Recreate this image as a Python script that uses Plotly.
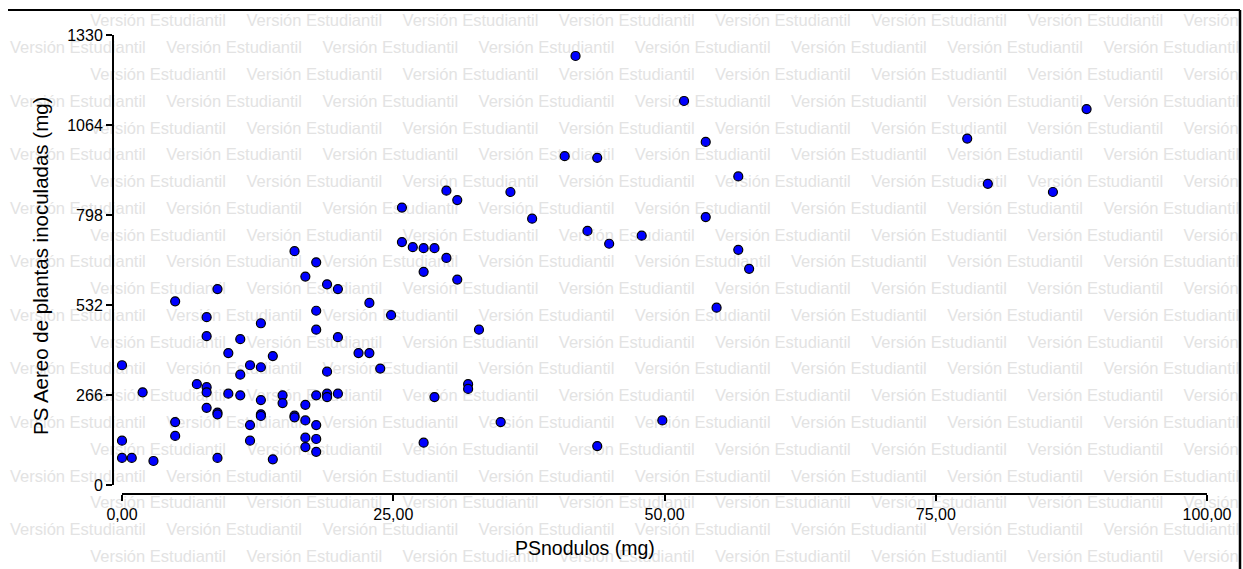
import plotly.graph_objects as go

# ---- data ----
ps_nodulos = [
    0.0, 0.0, 0.0, 0.9, 1.9, 2.9, 4.9, 4.9, 4.9, 6.9,
    7.8, 7.8, 7.8, 7.8, 7.8, 8.8, 8.8, 8.8, 8.8, 9.8,
    9.8, 10.9, 10.9, 10.9, 11.8, 11.8, 11.8, 12.8, 12.8, 12.8,
    12.8, 12.8, 13.9, 13.9, 14.8, 14.8, 15.9, 15.9, 15.9, 16.9,
    16.9, 16.9, 16.9, 16.9, 17.9, 17.9, 17.9, 17.9, 17.9, 17.9,
    17.9, 18.9, 18.9, 18.9, 18.9, 19.9, 19.9, 19.9, 21.8, 22.8,
    22.8, 23.8, 24.8, 25.8, 25.8, 26.8, 27.8, 28.8, 27.8, 27.8,
    28.8, 29.9, 29.9, 30.9, 30.9, 31.9, 31.9, 32.9, 34.9, 35.8,
    37.8, 40.8, 41.8, 42.9, 43.8, 43.8, 44.9, 47.9, 49.8, 51.8,
    53.8, 53.8, 54.8, 56.8, 56.8, 57.8, 77.9, 79.8, 85.8, 88.9,
]
ps_aereo = [
    354, 131, 80, 80, 274, 71, 543, 186, 145, 298,
    496, 440, 289, 274, 228, 579, 214, 209, 80, 390,
    270, 431, 326, 265, 354, 177, 131, 478, 348, 251,
    209, 204, 381, 76, 265, 242, 691, 205, 200, 616,
    237, 191, 140, 112, 658, 515, 459, 265, 177, 136,
    98, 593, 335, 270, 260, 579, 437, 270, 390, 538,
    390, 344, 502, 820, 718, 703, 700, 700, 630, 125,
    260, 870, 671, 842, 607, 298, 284, 459, 186, 866,
    787, 972, 1268, 751, 967, 115, 713, 737, 191, 1135,
    1014, 792, 524, 912, 695, 639, 1024, 890, 866, 1111,
]
x_ticks = [0, 25, 50, 75, 100]
y_ticks = [0, 266, 532, 798, 1064, 1330]
x_title = "PSnodulos (mg)"
y_title = "PS Aereo de plantas inoculadas (mg)"
watermark = "Versión Estudiantil"

W, H = 1243, 569
FONT = "Liberation Sans, Arial, sans-serif"

# ---- watermark tiling (background layer) ----
wm_x, wm_y = [], []
period = 156.2
for k in range(21):
    y = 22.3 + k * 26.77
    start = -66 if k % 2 == 0 else 10
    xx = start
    while xx < W:
        wm_x.append(xx)
        wm_y.append(y)
        xx += period

fig = go.Figure()
fig.add_trace(go.Scatter(
    x=wm_x, y=wm_y, mode="text", text=[watermark] * len(wm_x),
    textposition="middle right",
    textfont=dict(family=FONT, size=16.5, color="#e3e3e3"),
    hoverinfo="skip", showlegend=False, cliponaxis=False,
    xaxis="x", yaxis="y",
))

fig.add_trace(go.Scatter(
    x=ps_nodulos, y=ps_aereo, mode="markers",
    marker=dict(size=9, color="#0000ff", line=dict(color="black", width=1.2)),
    showlegend=False, cliponaxis=False,
    xaxis="x2", yaxis="y2",
))

x0p, x100p = 122, 1207
y0p, y1330p = 485, 35
xaxis_line_y = 494
yaxis_line_x = 113

fig.update_layout(
    template="none",
    width=W, height=H, autosize=False,
    margin=dict(l=0, r=0, t=0, b=0, pad=0, autoexpand=False),
    paper_bgcolor="white", plot_bgcolor="rgba(0,0,0,0)",
    separators=",.",
    xaxis=dict(domain=[0, 1], range=[0, W], visible=False, fixedrange=True,
               automargin=False),
    yaxis=dict(domain=[0, 1], range=[H, 0], visible=False, fixedrange=True,
               automargin=False),
    xaxis2=dict(
        domain=[x0p / W, x100p / W], range=[0, 100],
        anchor="free", position=(H - xaxis_line_y) / H, automargin=False,
        showline=True, linecolor="black", linewidth=2,
        ticks="outside", ticklen=6, tickwidth=2, tickcolor="black",
        tickvals=x_ticks, tickformat=".2f",
        tickfont=dict(family=FONT, size=16, color="black"),
        showgrid=False, zeroline=False,
    ),
    yaxis2=dict(
        domain=[(H - y0p) / H, (H - y1330p) / H], range=[0, 1330],
        anchor="free", position=yaxis_line_x / W, automargin=False,
        showline=True, linecolor="black", linewidth=2,
        ticks="outside", ticklen=6, tickwidth=2, tickcolor="black",
        tickvals=y_ticks, tickformat="d",
        tickfont=dict(family=FONT, size=16, color="black"),
        showgrid=False, zeroline=False,
    ),
    annotations=[
        dict(text=x_title, xref="paper", yref="paper", x=585 / W, y=1 - 548 / H,
             showarrow=False, xanchor="center", yanchor="middle",
             font=dict(family=FONT, size=19.5, color="black")),
        dict(text=y_title, xref="paper", yref="paper", x=40 / W, y=1 - 266 / H,
             showarrow=False, xanchor="center", yanchor="middle", textangle=-90,
             font=dict(family=FONT, size=20.5, color="black")),
    ],
    shapes=[
        dict(type="line", xref="paper", yref="paper", x0=8 / W, x1=1240 / W,
             y0=1 - 10 / H, y1=1 - 10 / H, line=dict(color="black", width=2)),
        dict(type="line", xref="paper", yref="paper", x0=1240 / W, x1=1240 / W,
             y0=1 - 10 / H, y1=0, line=dict(color="black", width=2.5)),
    ],
)

fig.write_html("out.html", config={"displayModeBar": False},
               post_script="document.body.style.margin='0';")
